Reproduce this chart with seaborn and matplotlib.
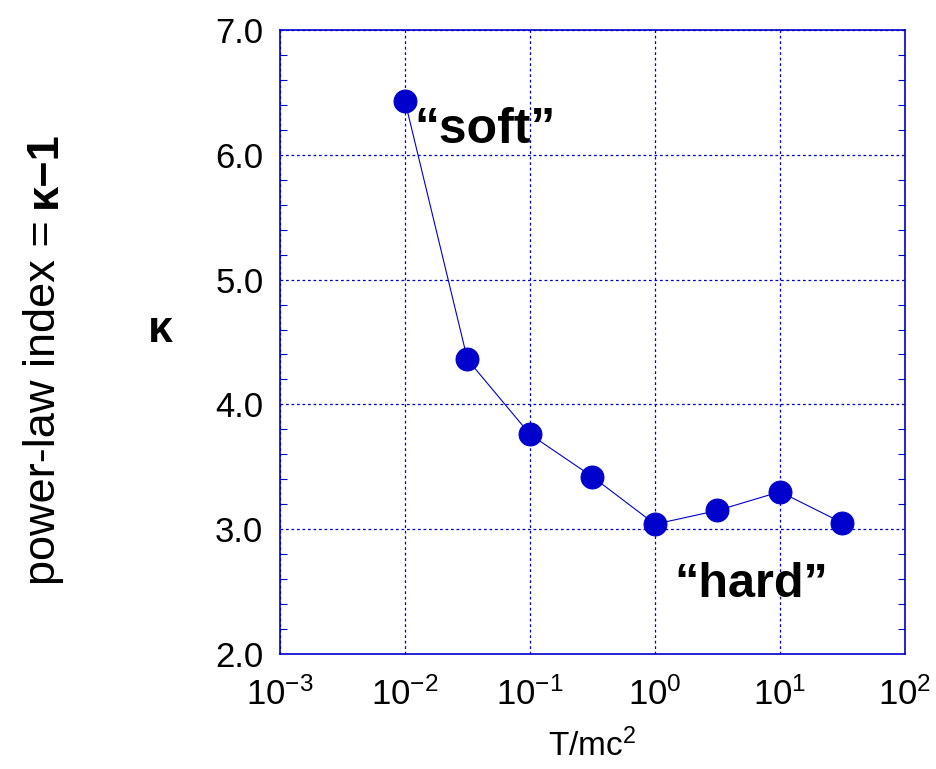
import matplotlib
matplotlib.use("Agg")
import matplotlib.pyplot as plt
import seaborn as sns
import pandas as pd
import numpy as np
from matplotlib.ticker import MultipleLocator, FixedLocator, FixedFormatter

# ---- data ----
T_mc2 = [0.01, 0.0316, 0.1, 0.316, 1.0, 3.16, 10.0, 31.6]
kappa = [6.43, 4.36, 3.76, 3.42, 3.04, 3.15, 3.30, 3.05]
x_ticks = [1e-3, 1e-2, 1e-1, 1e0, 1e1, 1e2]
x_tick_labels = [r"$10^{-3}$", r"$10^{-2}$", r"$10^{-1}$", r"$10^{0}$", r"$10^{1}$", r"$10^{2}$"]
y_ticks = [2.0, 3.0, 4.0, 5.0, 6.0, 7.0]
y_tick_labels = ["2.0", "3.0", "4.0", "5.0", "6.0", "7.0"]

df = pd.DataFrame({"T": T_mc2, "kappa": kappa})

sns.set_style("white")
plt.rcParams["font.family"] = ["Liberation Sans", "DejaVu Sans"]
plt.rcParams["text.color"] = "black"
plt.rcParams["axes.labelcolor"] = "black"
plt.rcParams["mathtext.fontset"] = "custom"
plt.rcParams["mathtext.rm"] = "Liberation Sans"
plt.rcParams["mathtext.it"] = "Liberation Sans"
plt.rcParams["mathtext.bf"] = "Liberation Sans:bold"

BLUE = "#0000cc"
fig = plt.figure(figsize=(9.37, 7.69), dpi=100)
ax = fig.add_axes([280/937, 1-654/769, (905-280)/937, (654-30)/769])

sns.lineplot(data=df, x="T", y="kappa", ax=ax, color=BLUE, lw=0.8,
             marker="o", markersize=16.5, markeredgecolor=BLUE,
             markerfacecolor=BLUE, zorder=5)

ax.set_xscale("log")
ax.set_xlim(1e-3, 1e2)
ax.set_ylim(2.0, 7.0)
ax.xaxis.set_major_locator(FixedLocator(x_ticks))
ax.xaxis.set_major_formatter(FixedFormatter(x_tick_labels))
ax.xaxis.set_minor_locator(FixedLocator([]))
ax.yaxis.set_major_locator(FixedLocator(y_ticks))
ax.yaxis.set_major_formatter(FixedFormatter(y_tick_labels))
ax.yaxis.set_minor_locator(MultipleLocator(0.2))

ax.grid(True, which="major", color=BLUE, linestyle=(0, (2.2, 2.2)), lw=0.9)
for s in ax.spines.values():
    s.set_color(BLUE)
    s.set_linewidth(1.2)
    s.set_visible(True)

ax.tick_params(axis="both", which="major", length=0, labelsize=25,
               labelcolor="black")
ax.tick_params(axis="x", which="major", pad=17)
ax.tick_params(axis="y", which="major", pad=12)
ax.tick_params(axis="y", which="minor", direction="in", length=5,
               width=0.8, color=BLUE, left=True, right=True)

ax.set_xlabel(r"T/mc$^{2}$", fontsize=24, labelpad=12, color="black")
ax.set_ylabel("")

# annotations
ax.text(0.0119, 6.2, "\u201csoft\u201d", fontsize=36, fontweight="bold", ha="left", va="center")
ax.text(5.86, 2.56, "\u201chard\u201d", fontsize=35, fontweight="bold", ha="center", va="center")

# kappa label
fig.text(160/937, 1-330/769, "\u03ba", fontsize=32, fontweight="bold", ha="center", va="center")

# y label in two parts
t1 = fig.text(44/937, 1-585/769, "power-law index = ", fontsize=32.5, rotation=90,
              rotation_mode="anchor", ha="left", va="center")
fig.canvas.draw()
bb = t1.get_window_extent()
fig.text(44/937, bb.y1/fig.bbox.height, "\u03ba\u22121", fontsize=32.5, fontweight="bold",
         rotation=90, rotation_mode="anchor", ha="left", va="center")

fig.savefig("out.png", dpi=100)
